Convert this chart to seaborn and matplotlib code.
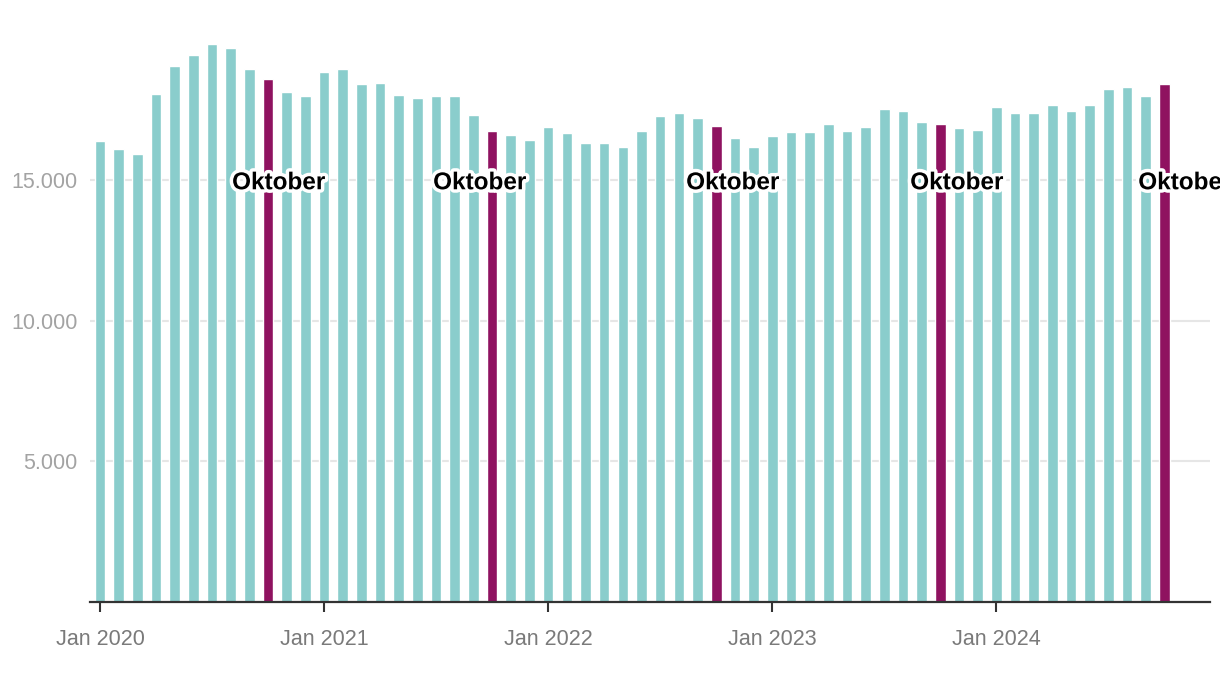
import pandas as pd
import matplotlib.pyplot as plt
import matplotlib.patheffects as pe
from matplotlib.ticker import FuncFormatter
import seaborn as sns

# Monthly values, Jan 2020 .. Oct 2024
months = pd.date_range("2020-01-01", "2024-10-01", freq="MS")
values_2020 = [16410, 16120, 15940, 18080, 19070, 19470, 19860, 19720, 18970, 18610, 18150, 18010]
values_2021 = [18860, 18970, 18430, 18470, 18040, 17940, 18010, 18010, 17330, 16760, 16620, 16440]
values_2022 = [16900, 16690, 16330, 16330, 16190, 16760, 17300, 17400, 17220, 16940, 16510, 16190]
values_2023 = [16580, 16730, 16730, 17010, 16760, 16900, 17540, 17470, 17080, 17010, 16870, 16800]
values_2024 = [17620, 17400, 17400, 17690, 17470, 17690, 18260, 18330, 18010, 18430]
values = values_2020 + values_2021 + values_2022 + values_2023 + values_2024

highlight_month = 10
label_text = "Oktober"
# horizontal offset (pixels) of each "Oktober" label's left edge from its bar
label_offsets = [-36, -59, -30, -30, -26]

year_ticks = ["Jan 2020", "Jan 2021", "Jan 2022", "Jan 2023", "Jan 2024"]
y_ticks = [5000, 10000, 15000]

teal = "#8acdcc"
purple = "#8f1260"
FONT = ["Liberation Sans", "DejaVu Sans"]


def build_frame():
    df = pd.DataFrame({"month": months, "value": values})
    df["label"] = df["month"].dt.strftime("%Y-%m")
    df["is_oct"] = df["month"].dt.month == highlight_month
    return df


def plot_data(df):
    sns.set_style("white")
    plt.rcParams["font.family"] = FONT

    fig = plt.figure(figsize=(12.2, 6.76), dpi=100)
    ax = fig.add_axes([90 / 1220, 74 / 676, 1120 / 1220, 582 / 676])

    colors = [purple if o else teal for o in df["is_oct"]]
    sns.barplot(data=df, x="label", y="value", hue="label", palette=colors,
                legend=False, dodge=False, width=0.57, saturation=1, ax=ax)

    ax.set_xlim(-0.54, 59.45)
    ax.set_ylim(0, 20700)

    # y axis: gridlines + grey labels, no tick marks
    ax.set_yticks(y_ticks)
    ax.yaxis.set_major_formatter(FuncFormatter(lambda v, p: f"{v:,.0f}".replace(",", ".")))
    ax.tick_params(axis="y", left=False, length=0, pad=9, labelsize=15.5, labelcolor="#a3a3a3")
    ax.grid(axis="y", color="#e6e6e6", linewidth=1.5)
    ax.set_axisbelow(True)

    # x axis: ticks only at January
    jan_pos = [i for i, m in enumerate(df["month"]) if m.month == 1]
    ax.set_xticks(jan_pos)
    ax.set_xticklabels(year_ticks)
    ax.tick_params(axis="x", bottom=True, direction="out", length=7.5, width=1.5,
                   color="#333333", pad=12, labelsize=15.5, labelcolor="#7a7a7a")

    for side in ["top", "right", "left"]:
        ax.spines[side].set_visible(False)
    ax.spines["bottom"].set_color("#333333")
    ax.spines["bottom"].set_linewidth(1.6)
    ax.set_xlabel("")
    ax.set_ylabel("")

    # "Oktober" labels on the 15.000 line
    oct_pos = [i for i, o in enumerate(df["is_oct"]) if o]
    for pos, off in zip(oct_pos, label_offsets):
        ax.annotate(label_text, xy=(pos, 15000), xytext=(off, 0),
                    textcoords="offset pixels", ha="left", va="center_baseline",
                    fontsize=17.5, fontweight="bold", color="black",
                    annotation_clip=False,
                    path_effects=[pe.withStroke(linewidth=5, foreground="white")])

    fig.savefig("out.png", dpi=100)


if __name__ == "__main__":
    data = build_frame()
    plot_data(data)
